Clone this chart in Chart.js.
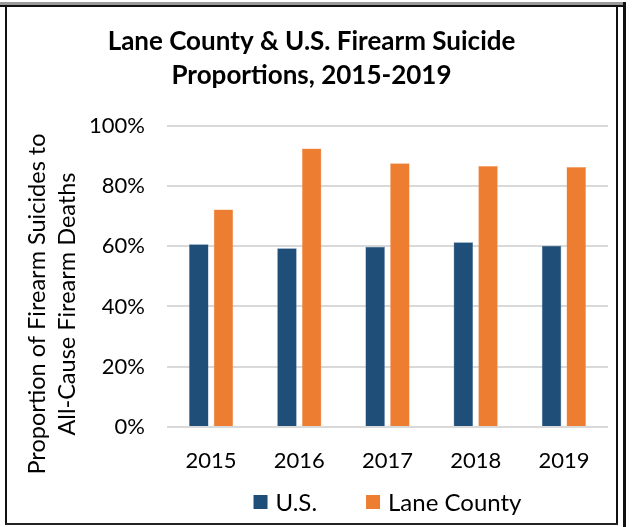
<!DOCTYPE html>
<html>
<head>
<meta charset="utf-8">
<script src="https://cdn.jsdelivr.net/npm/chart.js@4"></script>
<style>
  html, body { margin: 0; padding: 0; background: #fff; }
  #wrap { position: relative; width: 634px; height: 527px; overflow: hidden; }
  #wrap canvas { position: absolute; left: 0; top: 0; }
  .ln { position: absolute; pointer-events: none; }
</style>
</head>
<body>
<div id="wrap">
  <canvas id="chart" width="634" height="527"></canvas>
  <div class="ln" style="left:0;top:2px;width:626px;height:3px;background:#9a9a9a"></div>
  <div class="ln" style="left:0;top:5px;width:626px;height:2px;background:#111"></div>
  <div class="ln" style="left:5px;top:5px;width:2px;height:520px;background:#111"></div>
  <div class="ln" style="left:616px;top:5px;width:2px;height:520px;background:#111"></div>
  <div class="ln" style="left:623px;top:2px;width:3px;height:525px;background:#111"></div>
  <div class="ln" style="left:5px;top:523px;width:613px;height:2px;background:#222"></div>
</div>
<script>
const years = ['2015', '2016', '2017', '2018', '2019'];
const usValues = [60.6, 59.3, 59.8, 61.3, 60.1];
const laneValues = [72.2, 92.4, 87.5, 86.6, 86.3];
const yTicks = [0, 20, 40, 60, 80, 100];
const titleLines = ['Lane County & U.S. Firearm Suicide', 'Proportions, 2015-2019'];
const yTitleLines = ['Proportion of Firearm Suicides to', 'All-Cause Firearm Deaths'];

const FONT = 'Lato, "Open Sans", sans-serif';

// y-axis title, title centring and legend are placed by hand to follow the Excel layout
const layoutPlugin = {
    id: 'excelLayout',
    afterLayout(chart) {
        chart.titleBlock.left = 7;
        chart.titleBlock.right = 616;
    },
    afterDraw(chart) {
        const ctx = chart.ctx;
        const area = chart.chartArea;
        ctx.save();
        ctx.fillStyle = '#000';

        // axis title
        ctx.font = '23.5px ' + FONT;
        ctx.textAlign = 'center';
        ctx.textBaseline = 'middle';
        ctx.save();
        ctx.translate(0, 304);
        ctx.rotate(-Math.PI / 2);
        ctx.fillText(yTitleLines[0], 0, 37);
        ctx.fillText(yTitleLines[1], 0, 67);
        ctx.restore();

        // legend, centred under the plot area
        const box = 14, gapText = 8, gapItem = 49, y = 502;
        ctx.font = '24px ' + FONT;
        const items = chart.data.datasets.map(ds => ({
            text: ds.label, color: ds.backgroundColor, w: ctx.measureText(ds.label).width
        }));
        const total = items.reduce((s, it) => s + box + gapText + it.w, 0) + gapItem * (items.length - 1);
        let x = (area.left + area.right) / 2 - total / 2;
        ctx.textAlign = 'left';
        items.forEach(it => {
            ctx.fillStyle = it.color;
            ctx.fillRect(x, y - box / 2, box, box);
            ctx.fillStyle = '#000';
            ctx.fillText(it.text, x + box + gapText, y + 1);
            x += box + gapText + it.w + gapItem;
        });
        ctx.restore();
    }
};

new Chart(document.getElementById('chart'), {
    type: 'bar',
    data: {
        labels: years,
        datasets: [
            { label: 'U.S.', data: usValues, backgroundColor: '#1F4E79', borderColor: '#5a7fa3', borderWidth: 0.5 },
            { label: 'Lane County', data: laneValues, backgroundColor: '#ED7D31', borderColor: '#f3a26c', borderWidth: 0.5 }
        ]
    },
    options: {
        responsive: false,
        devicePixelRatio: 1,
        animation: false,
        categoryPercentage: 0.56,
        barPercentage: 0.79,
        layout: { padding: { left: 0, right: 26, top: 0, bottom: 44 } },
        plugins: {
            tooltip: { enabled: false },
            legend: { display: false },
            title: {
                display: true,
                text: titleLines,
                color: '#000',
                font: { family: FONT, size: 26, weight: 'bold', lineHeight: 1.3 },
                padding: { top: 25, bottom: 33 }
            }
        },
        scales: {
            x: {
                grid: { display: false, drawTicks: false },
                border: { display: false },
                afterFit(scale) { scale.height = 56; },
                ticks: { color: '#000', font: { family: FONT, size: 22 }, padding: 21 }
            },
            y: {
                min: 0,
                max: 100,
                afterBuildTicks(scale) {
                    scale.ticks = yTicks.map(v => ({ value: v }));
                },
                afterFit(scale) { scale.width = 167; },
                grid: { color: '#d9d9d9', lineWidth: 2, drawTicks: false },
                border: { display: false },
                ticks: {
                    color: '#000',
                    font: { family: FONT, size: 22 },
                    padding: 22,
                    callback: v => v + '%'
                }
            }
        }
    },
    plugins: [layoutPlugin]
});
</script>
</body>
</html>
